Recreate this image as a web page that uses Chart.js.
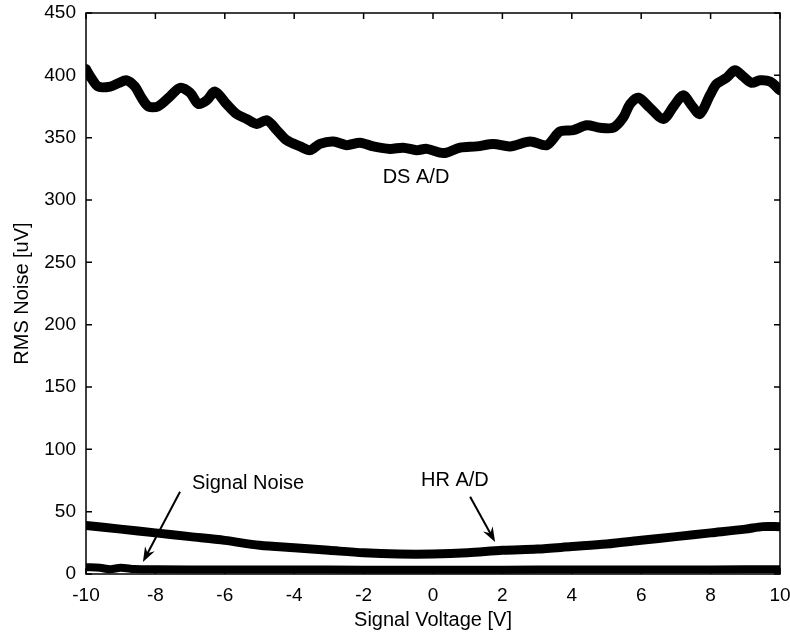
<!DOCTYPE html>
<html>
<head>
<meta charset="utf-8">
<script src="https://cdn.jsdelivr.net/npm/chart.js@4"></script>
<style>
  html, body { margin: 0; padding: 0; background: #fff; }
  #wrap { width: 790px; height: 635px; }
</style>
</head>
<body>
<div id="wrap"><canvas id="myChart" width="790" height="635"></canvas></div>
<script>
// values
const dsVolts = [-10, -9.85, -9.65, -9.3, -9.05, -8.83, -8.59, -8.4, -8.2, -7.93, -7.58, -7.29, -7.0, -6.76, -6.52, -6.28,
  -5.95, -5.66, -5.37, -5.08, -4.79, -4.5, -4.22, -3.83, -3.54, -3.26, -2.87, -2.49, -2.1, -1.72, -1.24, -0.86,
  -0.47, -0.18, 0.2, 0.39, 0.78, 1.26, 1.74, 2.22, 2.8, 3.28, 3.66, 4.04, 4.43, 4.81, 5.2, 5.48, 5.68, 5.92,
  6.25, 6.64, 6.93, 7.21, 7.45, 7.69, 7.98, 8.17, 8.46, 8.7, 8.94, 9.18, 9.42, 9.71, 10];
const dsNoise = [405, 398, 391, 391, 394, 396, 391, 382, 375, 375, 383, 390, 386, 377, 380, 387,
  377, 369, 365, 361, 364, 356, 348, 343, 340, 345, 347, 344, 346, 343, 341, 342,
  340, 341, 338, 338, 342, 343, 345, 343, 347, 344, 355, 356, 360, 358, 358, 366, 377, 382,
  374, 365, 375, 384, 376, 369, 384, 393, 398, 404, 399, 394, 396, 395, 388];

const hrVolts = [-10, -9, -8, -7, -6, -5, -4, -3, -2, -1, 0, 1, 2, 3, 4, 5, 6, 7, 8, 9, 9.5, 10];
const hrNoise = [39, 36, 33, 30, 27, 23, 21, 19, 17, 16, 16, 17, 19, 20, 22, 24, 27, 30, 33, 36, 38, 38];

const snVolts = [-10, -9.6, -9.3, -9.0, -8.6, -8, -6, -4, -2, 0, 2, 4, 6, 8, 10];
const snNoise = [5.5, 5, 3.8, 5, 4, 3.8, 3.6, 3.6, 3.5, 3.5, 3.5, 3.6, 3.6, 3.7, 3.8];

// labels and arrows, in data units
const notes = [
  { text: 'DS A/D', x: -0.49, y: 318 },
  { text: 'Signal Noise', x: -5.33, y: 73 },
  { text: 'HR A/D', x: 0.63, y: 75 }
];
const arrows = [
  { from: [-7.29, 66], to: [-8.36, 9.6] },
  { from: [1.07, 62], to: [1.79, 25.7] }
];

function toPoints(xs, ys) {
  return xs.map((x, i) => ({ x: x, y: ys[i] }));
}

const fontFam = '"Liberation Sans", Arial, sans-serif';

// box round the plot, inward ticks, text and arrows
const matlabLook = {
  id: 'matlabLook',
  afterDraw(chart) {
    const ctx = chart.ctx;
    const area = chart.chartArea;
    const xs = chart.scales.x;
    const ys = chart.scales.y;
    ctx.save();
    ctx.strokeStyle = '#000';
    ctx.lineWidth = 1.5;
    ctx.strokeRect(area.left, area.top, area.right - area.left, area.bottom - area.top);

    ctx.beginPath();
    xs.ticks.forEach(t => {
      const px = xs.getPixelForValue(t.value);
      ctx.moveTo(px, area.bottom); ctx.lineTo(px, area.bottom - 6);
      ctx.moveTo(px, area.top); ctx.lineTo(px, area.top + 6);
    });
    ys.ticks.forEach(t => {
      const py = ys.getPixelForValue(t.value);
      ctx.moveTo(area.left, py); ctx.lineTo(area.left + 6, py);
      ctx.moveTo(area.right, py); ctx.lineTo(area.right - 6, py);
    });
    ctx.stroke();

    ctx.fillStyle = '#000';
    ctx.font = '20px ' + fontFam;
    ctx.textAlign = 'center';
    ctx.textBaseline = 'middle';
    notes.forEach(n => {
      ctx.fillText(n.text, xs.getPixelForValue(n.x), ys.getPixelForValue(n.y));
    });

    arrows.forEach(a => {
      const x1 = xs.getPixelForValue(a.from[0]), y1 = ys.getPixelForValue(a.from[1]);
      const x2 = xs.getPixelForValue(a.to[0]), y2 = ys.getPixelForValue(a.to[1]);
      const ang = Math.atan2(y2 - y1, x2 - x1);
      ctx.lineWidth = 2;
      ctx.beginPath();
      ctx.moveTo(x1, y1);
      ctx.lineTo(x2 - 8 * Math.cos(ang), y2 - 8 * Math.sin(ang));
      ctx.stroke();
      ctx.beginPath();
      ctx.moveTo(x2, y2);
      ctx.lineTo(x2 - 16 * Math.cos(ang - 0.35), y2 - 16 * Math.sin(ang - 0.35));
      ctx.lineTo(x2 - 10 * Math.cos(ang), y2 - 10 * Math.sin(ang));
      ctx.lineTo(x2 - 16 * Math.cos(ang + 0.35), y2 - 16 * Math.sin(ang + 0.35));
      ctx.closePath();
      ctx.fill();
    });
    ctx.restore();
  }
};

const config = {
  type: 'line',
  data: {
    datasets: [
      { label: 'DS A/D', data: toPoints(dsVolts, dsNoise), borderColor: '#000', borderWidth: 10, tension: 0.3 },
      { label: 'HR A/D', data: toPoints(hrVolts, hrNoise), borderColor: '#000', borderWidth: 9, tension: 0.3 },
      { label: 'Signal Noise', data: toPoints(snVolts, snNoise), borderColor: '#000', borderWidth: 8, tension: 0.3 }
    ]
  },
  options: {
    responsive: false,
    animation: false,
    events: [],
    layout: { padding: 0 },
    elements: { point: { radius: 0 }, line: { borderCapStyle: 'round', borderJoinStyle: 'round' } },
    plugins: { legend: { display: false }, tooltip: { enabled: false } },
    scales: {
      x: {
        type: 'linear', min: -10, max: 10,
        grid: { display: false, drawTicks: false },
        border: { display: false },
        ticks: { stepSize: 2, color: '#000', padding: 10, maxRotation: 0, font: { family: fontFam, size: 19 } },
        title: { display: true, text: 'Signal Voltage [V]', color: '#000', padding: { top: 4, bottom: 3 }, font: { family: fontFam, size: 20 } },
        afterFit(scale) {
          scale.height = 61;
          scale.paddingRight = 10;
        }
      },
      y: {
        type: 'linear', min: 0, max: 450,
        grid: { display: false, drawTicks: false },
        border: { display: false },
        ticks: { stepSize: 50, color: '#000', padding: 10, font: { family: fontFam, size: 19 } },
        title: { display: true, text: 'RMS Noise [uV]', color: '#000', padding: { top: 10, bottom: 4 }, font: { family: fontFam, size: 20 } },
        afterFit(scale) {
          scale.width = 86;
          scale.paddingTop = 13;
        }
      }
    }
  },
  plugins: [matlabLook]
};

let myChart = new Chart(document.getElementById('myChart'), config);
</script>
</body>
</html>
